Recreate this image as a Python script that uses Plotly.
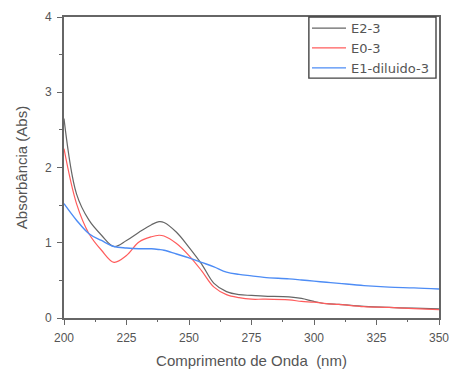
import plotly.graph_objects as go

wavelength = [200, 205, 210, 215, 220, 225, 230, 235, 238, 240, 245, 250, 255, 260, 265, 270, 275, 280, 290, 295, 300, 305, 310, 320, 330, 340, 350]
e2_3 = [2.65, 1.65, 1.30, 1.10, 0.95, 1.03, 1.14, 1.24, 1.28, 1.27, 1.14, 0.94, 0.72, 0.46, 0.35, 0.31, 0.30, 0.29, 0.28, 0.26, 0.22, 0.19, 0.18, 0.155, 0.14, 0.13, 0.12]
e0_3 = [2.25, 1.52, 1.12, 0.90, 0.74, 0.83, 1.01, 1.08, 1.10, 1.09, 0.99, 0.83, 0.63, 0.41, 0.31, 0.27, 0.25, 0.25, 0.24, 0.22, 0.21, 0.19, 0.18, 0.15, 0.14, 0.125, 0.11]
e1_diluido_3 = [1.52, 1.30, 1.12, 1.03, 0.95, 0.93, 0.92, 0.92, 0.91, 0.90, 0.85, 0.80, 0.74, 0.68, 0.61, 0.58, 0.56, 0.54, 0.52, 0.505, 0.49, 0.475, 0.46, 0.43, 0.41, 0.40, 0.385]

x_ticks = [200, 225, 250, 275, 300, 325, 350]
y_ticks = [0, 1, 2, 3, 4]

FONT = "Liberation Sans, Arial"
GREY = "#555555"

fig = go.Figure()
fig.add_trace(go.Scatter(x=wavelength, y=e2_3, name="E2-3", mode="lines",
                         line=dict(color="#666666", width=1.2, shape="spline")))
fig.add_trace(go.Scatter(x=wavelength, y=e0_3, name="E0-3", mode="lines",
                         line=dict(color="#ff5c5c", width=1.2, shape="spline")))
fig.add_trace(go.Scatter(x=wavelength, y=e1_diluido_3, name="E1-diluido-3", mode="lines",
                         line=dict(color="#4d8cf5", width=1.4, shape="spline")))

axis_common = dict(showline=True, linecolor="#666666", linewidth=1.8, mirror=True,
                   ticks="outside", ticklen=5, tickcolor="#666666", showgrid=False,
                   zeroline=False, ticklabelstandoff=3,
                   tickfont=dict(family=FONT, size=12, color=GREY))

fig.update_xaxes(range=[200, 350], tickvals=x_ticks,
                 minor=dict(dtick=12.5, ticks="outside", ticklen=2, tickcolor="#666666"),
                 title=dict(text="Comprimento de Onda\u00a0 (nm)", font=dict(family=FONT, size=15, color=GREY), standoff=11),
                 **axis_common)
fig.update_yaxes(range=[0, 4], tickvals=y_ticks,
                 minor=dict(dtick=0.5, ticks="outside", ticklen=3, tickcolor="#666666"),
                 title=dict(text="Absorbância (Abs)", font=dict(family=FONT, size=15, color=GREY), standoff=14),
                 **axis_common)

# legend frame
fig.add_shape(type="rect", xref="paper", yref="paper", x0=0.653, x1=0.992, y0=0.797, y1=1.0,
              line=dict(color="#444444", width=1.4), fillcolor="white", layer="above")

fig.update_layout(
    width=465, height=370,
    margin=dict(l=64, r=26, t=17, b=52, autoexpand=False),
    plot_bgcolor="white", paper_bgcolor="white",
    showlegend=True,
    legend=dict(x=0.648, y=1.013, xanchor="left", yanchor="top",
                borderwidth=0, bgcolor="rgba(0,0,0,0)",
                font=dict(family="DejaVu Sans", size=13, color=GREY),
                tracegroupgap=0, itemwidth=34),
)

fig.write_html("out.html", config={"displayModeBar": False},
               post_script="document.body.style.margin='0';")
